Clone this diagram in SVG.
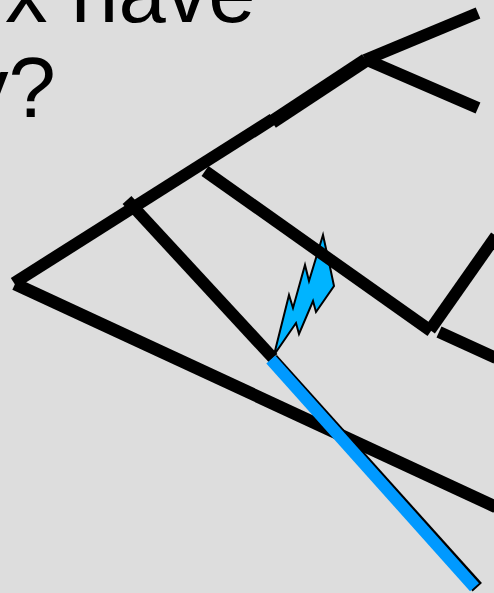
<svg xmlns="http://www.w3.org/2000/svg" width="494" height="593" viewBox="0 0 494 593">
<style>
.l{fill:none;stroke:#000;stroke-width:12}
.t{font-family:"Liberation Sans",Arial,sans-serif;font-size:85px;fill:#000}
</style>
<rect width="494" height="593" fill="#ddd"/>
<g id="caption">
<text class="t" x="5" y="22">x have</text>
<text class="t" x="-34" y="117">y?</text>
</g>
<g id="lightning">
<polygon points="274,355 289,295 293,308 305,265 309,281 323,235 330,267 334,286 316,312 313,301 299,334 296,323" fill="#00b4ff" stroke="#000" stroke-width="2"/>
</g>
<g id="connectors">
<line class="l" x1="14" y1="283" x2="273" y2="119"/>
<line class="l" x1="272" y1="122" x2="366" y2="60" style="stroke-width:14"/>
<line class="l" x1="365" y1="60" x2="478" y2="13"/>
<line class="l" x1="367" y1="60" x2="478" y2="108"/>
<line class="l" x1="127" y1="200" x2="273" y2="358"/>
<line class="l" x1="205" y1="171" x2="431" y2="331"/>
<line class="l" x1="430" y1="330" x2="496" y2="236"/>
<line class="l" x1="439" y1="332" x2="496" y2="358"/>
<line class="l" x1="15" y1="284" x2="496" y2="507" style="stroke-width:12.5"/>
<line class="l" x1="272.3" y1="359.2" x2="477.3" y2="587.2" style="stroke-width:12.5"/>
<line class="l" x1="270.8" y1="359.6" x2="474.5" y2="587.2" style="stroke:#0099ff"/>
</g>
</svg>
